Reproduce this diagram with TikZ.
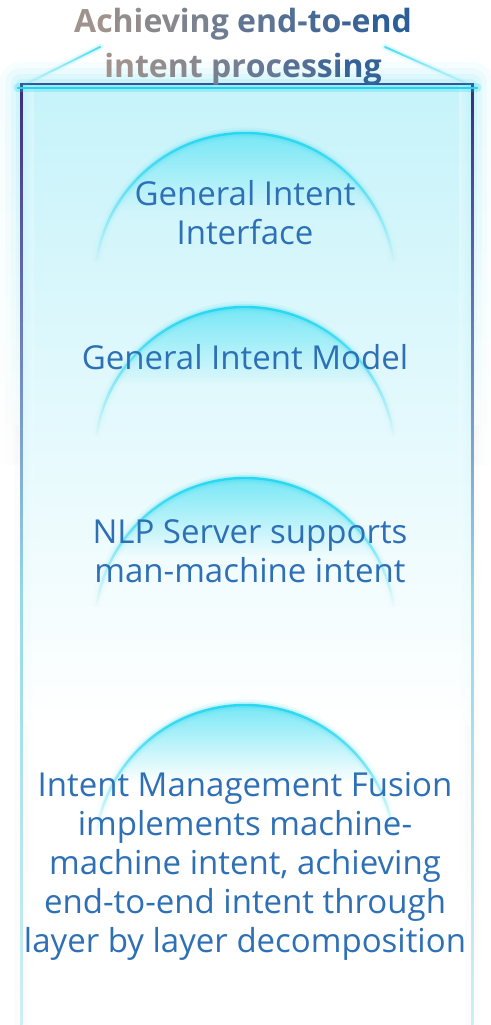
\documentclass[tikz,border=0pt]{standalone}
\usepackage{fontspec}
\setmainfont{Open Sans}
\usetikzlibrary{fadings}
\definecolor{bodyblue}{RGB}{46,112,182}
\definecolor{titlegray}{RGB}{160,146,140}
\definecolor{titleblue}{RGB}{44,94,152}
\definecolor{domecyan}{RGB}{32,214,240}
\definecolor{domefill}{RGB}{120,232,246}
\definecolor{edgepurple}{RGB}{59,44,124}
\definecolor{edgemid}{RGB}{107,122,184}
\definecolor{edgecyan}{RGB}{150,216,230}
\definecolor{edgelight}{RGB}{205,239,243}
\definecolor{bgtop}{RGB}{198,243,250}
\definecolor{bgmid}{RGB}{220,246,250}
\tikzfading[name=fadedown, top color=transparent!0, bottom color=transparent!100]
\tikzfading[name=arcfade, top color=transparent!0, middle color=transparent!20, bottom color=transparent!100]
\newcommand\tg[2]{\textcolor{titleblue!#1!titlegray}{#2}}
% one glowing half-dome: #1 name, #2 height of its centre
\newcommand\drawdome[2]{%
  \coordinate (#1) at (245,#2);
  \begin{scope}
    \clip (#1) circle (150);
    \fill[domefill, path fading=fadedown] ([xshift=-150pt,yshift=150pt]#1) rectangle ([xshift=150pt,yshift=72pt]#1);
  \end{scope}
  \draw[domecyan, line width=11, opacity=.09, path fading=arcfade] ([shift={(8:150)}]#1) arc[start angle=8, end angle=172, radius=150];
  \draw[domecyan, line width=6, opacity=.20, path fading=arcfade] ([shift={(8:150)}]#1) arc[start angle=8, end angle=172, radius=150];
  \draw[domecyan, line width=2.4, path fading=arcfade] ([shift={(8:150)}]#1) arc[start angle=8, end angle=172, radius=150];
}
\tikzset{
  lbl/.style={font=\fontsize{33}{39}\selectfont, text=bodyblue, align=center, anchor=base, inner sep=0pt},
  ttl/.style={font=\bfseries\fontsize{32}{45}\selectfont, align=center, anchor=base, inner sep=0pt},
  glowline/.style={domecyan, line cap=round}
}
\begin{document}
\begin{tikzpicture}[x=1pt, y=1pt]
  \useasboundingbox (0,0) rectangle (490,1025);
  \fill[white] (0,0) rectangle (490,1025);

  % soft halo round the upper part of the frame
  \foreach \w/\o in {44/.04, 32/.05, 20/.07, 10/.09}{
    \draw[domecyan, line width=\w, opacity=\o, line join=round, path fading=fadedown] (21,560) -- (21,941) -- (472,941) -- (472,560);
  }
  \draw[gray, line width=14, opacity=.025] (21,0) -- (21,600);
  \draw[gray, line width=14, opacity=.025] (472,0) -- (472,600);

  % frame interior
  \shade[top color=bgtop, middle color=bgmid, bottom color=white] (22,300) rectangle (471,941);
  % faint inner glow along the sides
  \shade[left color=domecyan!30, right color=white, opacity=.35, path fading=fadedown] (22,150) rectangle (34,941);
  \shade[right color=domecyan!30, left color=white, opacity=.35, path fading=fadedown] (459,150) rectangle (471,941);

  % frame sides and top
  \foreach \xa in {20,471}{
    \shade[top color=edgepurple, bottom color=edgemid] (\xa,700) rectangle (\xa+2.5,941);
    \shade[top color=edgemid, bottom color=edgecyan] (\xa,430) rectangle (\xa+2.5,700.2);
    \shade[top color=edgecyan, bottom color=edgelight] (\xa,0) rectangle (\xa+2.5,430.2);
  }
  \coordinate (tl) at (20,941);
  \coordinate (tr) at (473.5,941);
  \draw[edgepurple, line width=2] (tl) -- (tr);

  % cyan rim under the top edge and the slanted rays
  \coordinate (cl) at (18,937);
  \coordinate (cr) at (477,937);
  \coordinate (rl) at (100,978);
  \coordinate (rr) at (385,978);
  \draw[glowline, line width=9, opacity=.25] (cl) -- (cr);
  \draw[glowline, line width=2.6] (cl) -- (cr);
  \draw[glowline, line width=6, opacity=.15, path fading=fadedown] (rl) -- (cl);
  \draw[glowline, line width=2, opacity=.8, path fading=fadedown] (rl) -- (cl);
  \draw[glowline, line width=6, opacity=.15, path fading=fadedown] (rr) -- (cr);
  \draw[glowline, line width=2, opacity=.8, path fading=fadedown] (rr) -- (cr);

  % the four layers
  \drawdome{d1}{742}
  \drawdome{d2}{568}
  \drawdome{d3}{397}
  \drawdome{d4}{170}

  % heading
  \node[ttl] (title) at (243,947) {\tg{0}{Ac}\tg{10}{hi}\tg{20}{ev}\tg{30}{in}\tg{42}{g }\tg{55}{en}\tg{66}{d-}\tg{77}{to}\tg{88}{-e}\tg{100}{nd}\\
    \tg{0}{in}\tg{10}{te}\tg{20}{nt }\tg{35}{pr}\tg{50}{oc}\tg{65}{es}\tg{80}{si}\tg{92}{ng}};

  % layer captions
  \node[lbl] (l1) at (245,780) {General Intent\\Interface};
  \node[lbl] (l2) at (245,655) {General Intent Model};
  \node[lbl] (l3) at (250,442) {NLP Server supports\\man-machine intent};
  \node[lbl] (l4) at (245,72) {Intent Management Fusion\\implements machine-\\machine intent, achieving\\end-to-end intent through\\layer by layer decomposition};
\end{tikzpicture}
\end{document}
